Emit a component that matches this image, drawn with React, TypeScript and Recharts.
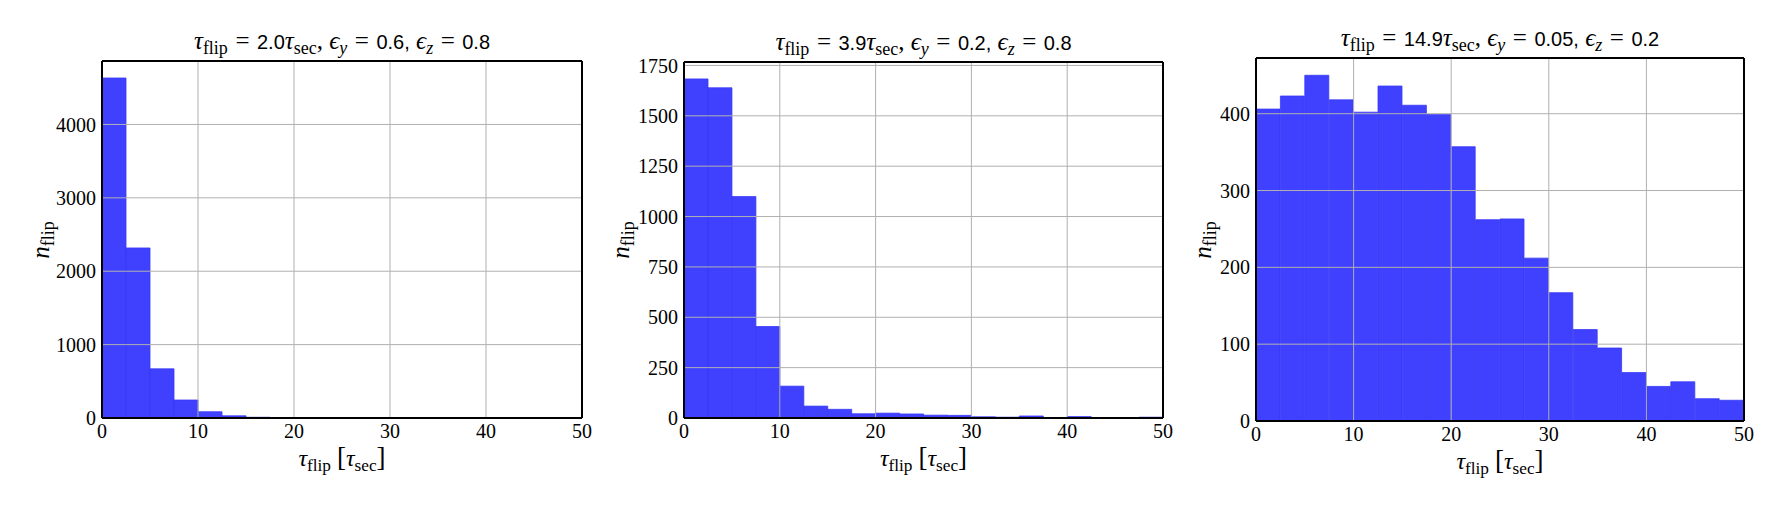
import React from "react"
import { BarChart, Bar, XAxis, YAxis, ReferenceLine } from "recharts"

// histogram bins (left edges, width 2.5 tau_sec)
const binStart = [0, 2.5, 5, 7.5, 10, 12.5, 15, 17.5, 20, 22.5, 25, 27.5, 30, 32.5, 35, 37.5, 40, 42.5, 45, 47.5]

// counts per bin
const countsA = [4633, 2317, 670, 245, 85, 30, 10, 3, 0, 0, 0, 0, 0, 0, 0, 0, 0, 0, 0, 0]
const countsB = [1683, 1639, 1099, 454, 158, 59, 43, 21, 24, 20, 14, 13, 6, 4, 10, 1, 7, 1, 1, 4]
const countsC = [406, 423, 450, 418, 402, 436, 411, 399, 357, 262, 263, 212, 167, 119, 95, 63, 45, 51, 29, 27]

const xTicks = [0, 10, 20, 30, 40, 50]
const yTicksA = [0, 1000, 2000, 3000, 4000]
const yTicksB = [0, 250, 500, 750, 1000, 1250, 1500, 1750]
const yTicksC = [0, 100, 200, 300, 400]

// title parameters
const tauFlip = ["2.0", "3.9", "14.9"]
const epsY = ["0.6", "0.2", "0.05"]
const epsZ = ["0.8", "0.8", "0.2"]

const serif = '"Liberation Serif", "DejaVu Serif", serif'
const sans = '"Liberation Sans", Arial, sans-serif'
const gridColor = "#b0b0b0"

const Sub = ({ children }: { children: React.ReactNode }) => (
    <span style={{ fontSize: "0.72em", position: "relative", top: "0.3em", fontStyle: "normal" }}>
        {children}
    </span>
)

const Eq = () => <span style={{ margin: "0 0.3em" }}>=</span>
const Num = ({ children }: { children: React.ReactNode }) => (
    <span style={{ fontFamily: sans, fontSize: 20 }}>{children}</span>
)

interface PanelProps {
    counts: number[]
    yTicks: number[]
    box: { left: number; top: number; w: number; h: number }
    yLabelX: number
    idx: number
}

const Panel: React.FC<PanelProps> = ({ counts, yTicks, box, yLabelX, idx }) => {
    const rows = binStart.map((lo, i) => ({ bin: String(lo), lo, count: counts[i] }))
    // matplotlib autoscale: 5% headroom above the tallest bar
    const ymax = Math.max(...counts) * 1.05
    const chartLeft = box.left - 80
    const chartW = box.w + 100
    const xAxisH = 30
    const bottom = box.top + box.h
    const cx = box.left + box.w / 2
    const cy = box.top + box.h / 2
    const tickFont = { fontFamily: serif, fontSize: 20, fill: "#000" }
    const frame = { stroke: "#000", strokeWidth: 2 }
    const inTick = { stroke: "#000", strokeWidth: 1.5 }

    return (
        <>
            <div style={{ position: "absolute", left: chartLeft, top: 0 }}>
                <BarChart
                    width={chartW}
                    height={532}
                    data={rows}
                    margin={{ top: box.top, right: 20, left: 0, bottom: 532 - bottom - xAxisH }}
                    barCategoryGap={0}
                    barGap={0}
                >
                    <XAxis
                        xAxisId="tau"
                        type="number"
                        dataKey="lo"
                        domain={[0, 50]}
                        ticks={xTicks}
                        allowDataOverflow
                        height={xAxisH}
                        tickSize={0}
                        tickMargin={6}
                        axisLine={false}
                        tickLine={false}
                        tick={tickFont}
                    />
                    <YAxis
                        yAxisId="n"
                        type="number"
                        domain={[0, ymax]}
                        ticks={yTicks}
                        allowDataOverflow
                        width={80}
                        tickSize={0}
                        tickMargin={6}
                        axisLine={false}
                        tickLine={false}
                        tick={tickFont}
                    />
                    <Bar
                        xAxisId="bins"
                        yAxisId="n"
                        dataKey="count"
                        fill="#4040ff"
                        stroke="#3838f6"
                        strokeWidth={0.8}
                        isAnimationActive={false}
                    />
                    {xTicks.slice(1, -1).map(v => (
                        <ReferenceLine key={"gx" + v} xAxisId="tau" yAxisId="n" x={v} stroke={gridColor} strokeWidth={1} />
                    ))}
                    {yTicks.slice(1).map(v => (
                        <ReferenceLine key={"gy" + v} xAxisId="tau" yAxisId="n" y={v} stroke={gridColor} strokeWidth={1} />
                    ))}
                    {/* inward ticks + frame on all four sides */}
                    <XAxis xAxisId="tauB" type="number" dataKey="lo" domain={[0, 50]} ticks={xTicks} allowDataOverflow
                        orientation="bottom" mirror tick={false} tickSize={5} axisLine={frame} tickLine={inTick} />
                    <XAxis xAxisId="tauT" type="number" dataKey="lo" domain={[0, 50]} ticks={xTicks} allowDataOverflow
                        orientation="top" mirror tick={false} tickSize={5} axisLine={frame} tickLine={inTick} />
                    <YAxis yAxisId="nL" type="number" domain={[0, ymax]} ticks={yTicks} allowDataOverflow
                        orientation="left" mirror tick={false} tickSize={5} axisLine={frame} tickLine={inTick} />
                    <YAxis yAxisId="nR" type="number" domain={[0, ymax]} ticks={yTicks} allowDataOverflow
                        orientation="right" mirror tick={false} tickSize={5} axisLine={frame} tickLine={inTick} />
                    <XAxis xAxisId="bins" dataKey="bin" hide height={0} />
                </BarChart>
            </div>
            <div
                style={{
                    position: "absolute", left: cx - 300, width: 600, top: box.top - 34, height: 28,
                    lineHeight: "28px", textAlign: "center", fontFamily: serif, fontSize: 25, whiteSpace: "nowrap"
                }}
            >
                <i>τ</i><Sub>flip</Sub><Eq /><Num>{tauFlip[idx]}</Num>
                <i>τ</i><Sub>sec</Sub>, <i>ϵ</i><Sub><i>y</i></Sub><Eq />
                <Num>{epsY[idx]},</Num> <i>ϵ</i><Sub><i>z</i></Sub><Eq />
                <Num>{epsZ[idx]}</Num>
            </div>
            <div
                style={{
                    position: "absolute", left: cx - 150, width: 300, top: bottom + 24, height: 30,
                    lineHeight: "30px", textAlign: "center", fontFamily: serif, fontSize: 24, whiteSpace: "nowrap"
                }}
            >
                <i>τ</i><Sub>flip</Sub> <span style={{ fontSize: 27 }}>[</span><i>τ</i><Sub>sec</Sub><span style={{ fontSize: 27 }}>]</span>
            </div>
            <div
                style={{
                    position: "absolute", left: yLabelX, top: cy, fontFamily: serif, fontSize: 25,
                    lineHeight: "26px", whiteSpace: "nowrap", transform: "translate(-50%, -50%) rotate(-90deg)"
                }}
            >
                <i>n</i><Sub>flip</Sub>
            </div>
        </>
    )
}

const App = () => (
    <div style={{ position: "absolute", left: 0, top: 0, width: 1785, height: 532, background: "#fff", overflow: "hidden" }}>
        <Panel counts={countsA} yTicks={yTicksA} box={{ left: 102, top: 61, w: 480, h: 357 }} yLabelX={42} idx={0} />
        <Panel counts={countsB} yTicks={yTicksB} box={{ left: 684, top: 62, w: 479, h: 356 }} yLabelX={622} idx={1} />
        <Panel counts={countsC} yTicks={yTicksC} box={{ left: 1256, top: 58, w: 488, h: 363 }} yLabelX={1204} idx={2} />
    </div>
)

export default App
